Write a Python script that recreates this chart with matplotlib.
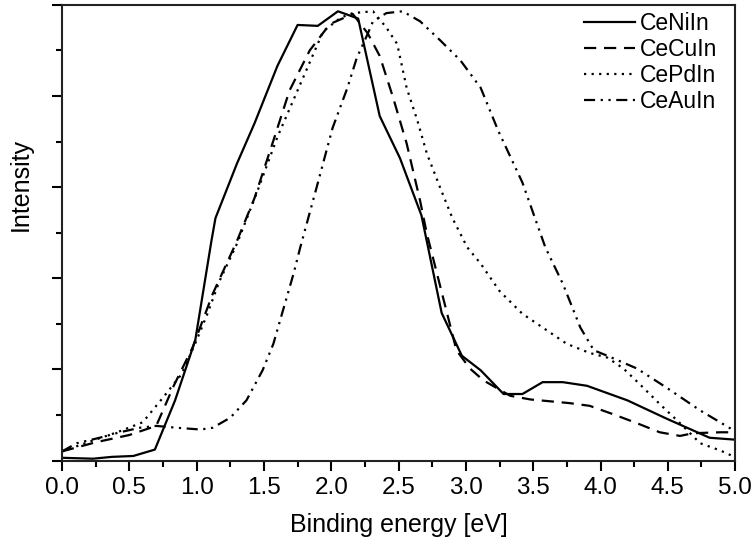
import numpy as np
import matplotlib.pyplot as plt
from matplotlib.ticker import MultipleLocator, NullFormatter

# CeNiIn (solid)
x_ni = [0.0, 0.23, 0.37, 0.53, 0.69, 0.84, 0.99, 1.11, 1.14, 1.30, 1.43, 1.60, 1.75, 1.90, 2.05,
        2.20, 2.36, 2.51, 2.67, 2.82, 2.97, 3.11, 3.28, 3.42, 3.57, 3.72, 3.90, 4.20, 4.49, 4.81, 4.99]
y_ni = [0.03, 0.02, 0.04, 0.05, 0.12, 0.66, 1.32, 2.41, 2.66, 3.26, 3.70, 4.33, 4.78, 4.77, 4.93,
        4.85, 3.78, 3.32, 2.69, 1.62, 1.15, 0.99, 0.73, 0.73, 0.86, 0.86, 0.82, 0.66, 0.46, 0.25, 0.23]

# CeCuIn (dashed)
x_cu = [0.0, 0.25, 0.5, 0.7, 0.83, 0.97, 1.12, 1.30, 1.43, 1.57, 1.69, 1.84, 1.99, 2.16, 2.27,
        2.36, 2.46, 2.56, 2.66, 2.71, 2.93, 3.03, 3.13, 3.33, 3.48, 3.77, 3.92, 4.09, 4.27, 4.44,
        4.59, 4.69, 4.89, 5.0]
y_cu = [0.1, 0.2, 0.28, 0.38, 0.82, 1.24, 1.83, 2.41, 2.88, 3.51, 4.06, 4.50, 4.79, 4.90, 4.69,
        4.44, 3.98, 3.48, 2.85, 2.49, 1.21, 1.01, 0.88, 0.71, 0.67, 0.63, 0.60, 0.51, 0.41, 0.31,
        0.27, 0.30, 0.31, 0.31]

# CePdIn (dotted)
x_pd = [0.0, 0.23, 0.41, 0.60, 0.75, 0.89, 1.0, 1.08, 1.17, 1.30, 1.45, 1.60, 1.77, 1.94, 2.07,
        2.16, 2.31, 2.41, 2.49, 2.56, 2.64, 2.71, 2.81, 2.90, 3.01, 3.11, 3.25, 3.42, 3.60, 3.75,
        3.92, 4.05, 4.17, 4.29, 4.44, 4.59, 4.74, 4.89, 4.98]
y_pd = [0.1, 0.22, 0.31, 0.42, 0.69, 0.95, 1.32, 1.61, 1.97, 2.38, 2.95, 3.55, 4.13, 4.71, 4.86,
        4.91, 4.93, 4.75, 4.57, 4.09, 3.73, 3.37, 2.99, 2.66, 2.34, 2.16, 1.86, 1.61, 1.43, 1.28,
        1.18, 1.13, 1.01, 0.84, 0.62, 0.41, 0.19, 0.11, 0.05]

# CeAuIn (dash-dot-dot)
x_au = [0.0, 0.11, 0.28, 0.43, 0.58, 0.70, 0.85, 1.03, 1.12, 1.25, 1.37, 1.49, 1.57, 1.64, 1.72,
        1.77, 1.89, 2.01, 2.12, 2.19, 2.27, 2.31, 2.41, 2.53, 2.66, 2.81, 2.96, 3.11, 3.24, 3.42,
        3.59, 3.72, 3.85, 3.95, 4.05, 4.27, 4.49, 4.74, 4.99]
y_au = [0.1, 0.19, 0.25, 0.31, 0.36, 0.38, 0.36, 0.34, 0.36, 0.47, 0.66, 0.99, 1.28, 1.64, 2.05,
        2.34, 2.99, 3.65, 4.09, 4.42, 4.68, 4.82, 4.91, 4.93, 4.82, 4.61, 4.39, 4.09, 3.62, 3.05,
        2.34, 1.94, 1.46, 1.21, 1.15, 1.01, 0.80, 0.55, 0.33]

labels = ['CeNiIn', 'CeCuIn', 'CePdIn', 'CeAuIn']

plt.rcParams['font.family'] = ['Liberation Sans', 'DejaVu Sans']

fig = plt.figure(figsize=(7.53, 5.45), dpi=100)
ax = fig.add_axes([0.0823, 0.155, 0.894, 0.836])

ax.plot(x_ni, y_ni, color='black', lw=1.6, label=labels[0])
ax.plot(x_cu, y_cu, color='black', lw=1.6, linestyle=(0, (5.5, 3.5)), label=labels[1])
ax.plot(x_pd, y_pd, color='black', lw=1.6, linestyle=(0, (1, 2.4)), label=labels[2])
ax.plot(x_au, y_au, color='black', lw=1.6, linestyle=(0, (5, 2.5, 1, 2.5, 1, 2.5)), label=labels[3])

ax.set_xlim(0, 5)
ax.set_ylim(0, 5)
ax.xaxis.set_major_locator(MultipleLocator(0.5))
ax.xaxis.set_minor_locator(MultipleLocator(0.25))
ax.yaxis.set_major_locator(MultipleLocator(1))
ax.yaxis.set_minor_locator(MultipleLocator(0.5))
ax.yaxis.set_major_formatter(NullFormatter())
ax.tick_params(which='major', direction='out', length=7, width=1.5, labelsize=17.5, pad=5)
ax.tick_params(which='minor', direction='out', length=4, width=1.5)
for s in ax.spines.values():
    s.set_linewidth(1.5)
    s.set_color('#222222')

ax.set_xlabel('Binding energy [eV]', fontsize=18, labelpad=10)
ax.set_ylabel('Intensity', fontsize=18)
ax.yaxis.set_label_coords(-0.043, 0.605)

ax.legend(loc='upper left', bbox_to_anchor=(0.762, 1.005), frameon=False, fontsize=16.5,
          handlelength=2.2, handletextpad=0.25, labelspacing=0.13, borderaxespad=0)

plt.savefig('out.png', dpi=100)
